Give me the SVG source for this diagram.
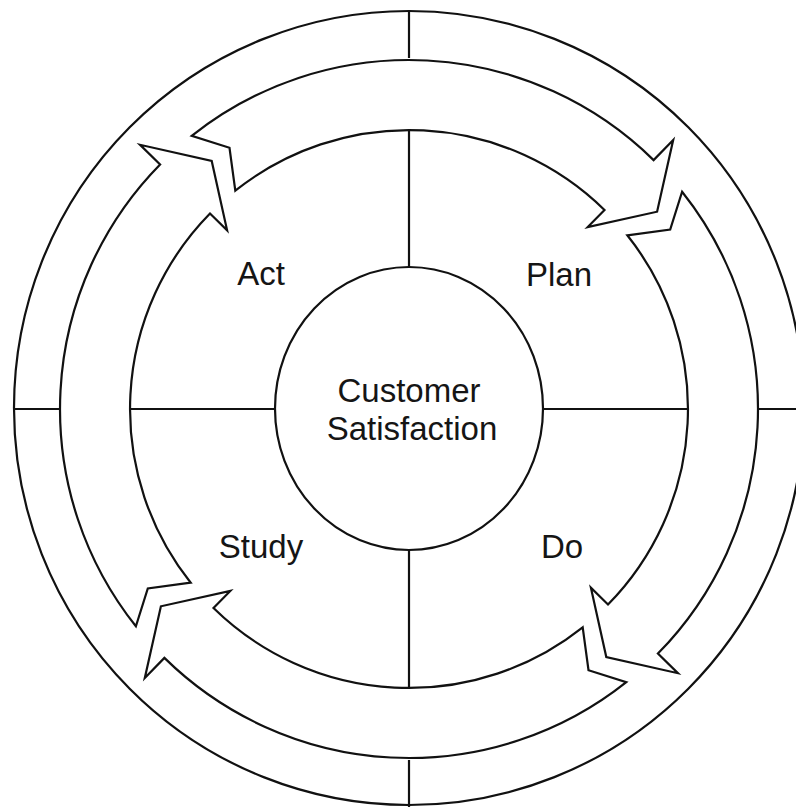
<svg xmlns="http://www.w3.org/2000/svg" xmlns:xlink="http://www.w3.org/1999/xlink" width="796" height="807" viewBox="0 0 796 807">
<style>
.ln{fill:none;stroke:#111;stroke-width:2.2;stroke-linejoin:miter}
.ar{fill:#fff;stroke:#111;stroke-width:2.2;stroke-linejoin:miter}
.lb{font-family:"Liberation Sans",Arial,sans-serif;font-size:33px;fill:#151515;text-anchor:middle}
</style>
<defs>
<path id="arrow" class="ar" d="M -173.7 -218.3 L -179.5 -261.2 L -217.3 -273.1 A 349 349 0 0 1 244.6 -248.9 L 264.2 -268.9 L 248.1 -197.3 L 178.7 -181.9 L 195.5 -199.0 A 279 279 0 0 0 -173.7 -218.3 Z"/>
</defs>
<rect width="796" height="807" fill="#fff"/>
<g id="rings">
<ellipse class="ln" cx="409" cy="408" rx="395" ry="397"/>
<line class="ln" x1="409" y1="10" x2="409" y2="58"/>
<line class="ln" x1="409" y1="130" x2="409" y2="268"/>
<line class="ln" x1="409" y1="550" x2="409" y2="688"/>
<line class="ln" x1="409" y1="760" x2="409" y2="807"/>
<line class="ln" x1="13" y1="409" x2="61" y2="409"/>
<line class="ln" x1="131" y1="409" x2="275" y2="409"/>
<line class="ln" x1="543" y1="409" x2="687" y2="409"/>
<line class="ln" x1="757" y1="409" x2="796" y2="409"/>
</g>
<g id="connectors" transform="translate(409,409)">
<use xlink:href="#arrow" href="#arrow"/>
<use xlink:href="#arrow" href="#arrow" transform="rotate(90)"/>
<use xlink:href="#arrow" href="#arrow" transform="rotate(180)"/>
<use xlink:href="#arrow" href="#arrow" transform="rotate(270)"/>
</g>
<g id="center">
<ellipse class="ln" cx="409" cy="408.5" rx="134" ry="141.5"/>
<text class="lb" x="409" y="402">Customer</text>
<text class="lb" x="412" y="440">Satisfaction</text>
</g>
<g id="act"><text class="lb" x="261" y="285">Act</text></g>
<g id="plan"><text class="lb" x="559" y="286">Plan</text></g>
<g id="do"><text class="lb" x="562" y="558">Do</text></g>
<g id="study"><text class="lb" x="261" y="558">Study</text></g>
</svg>
